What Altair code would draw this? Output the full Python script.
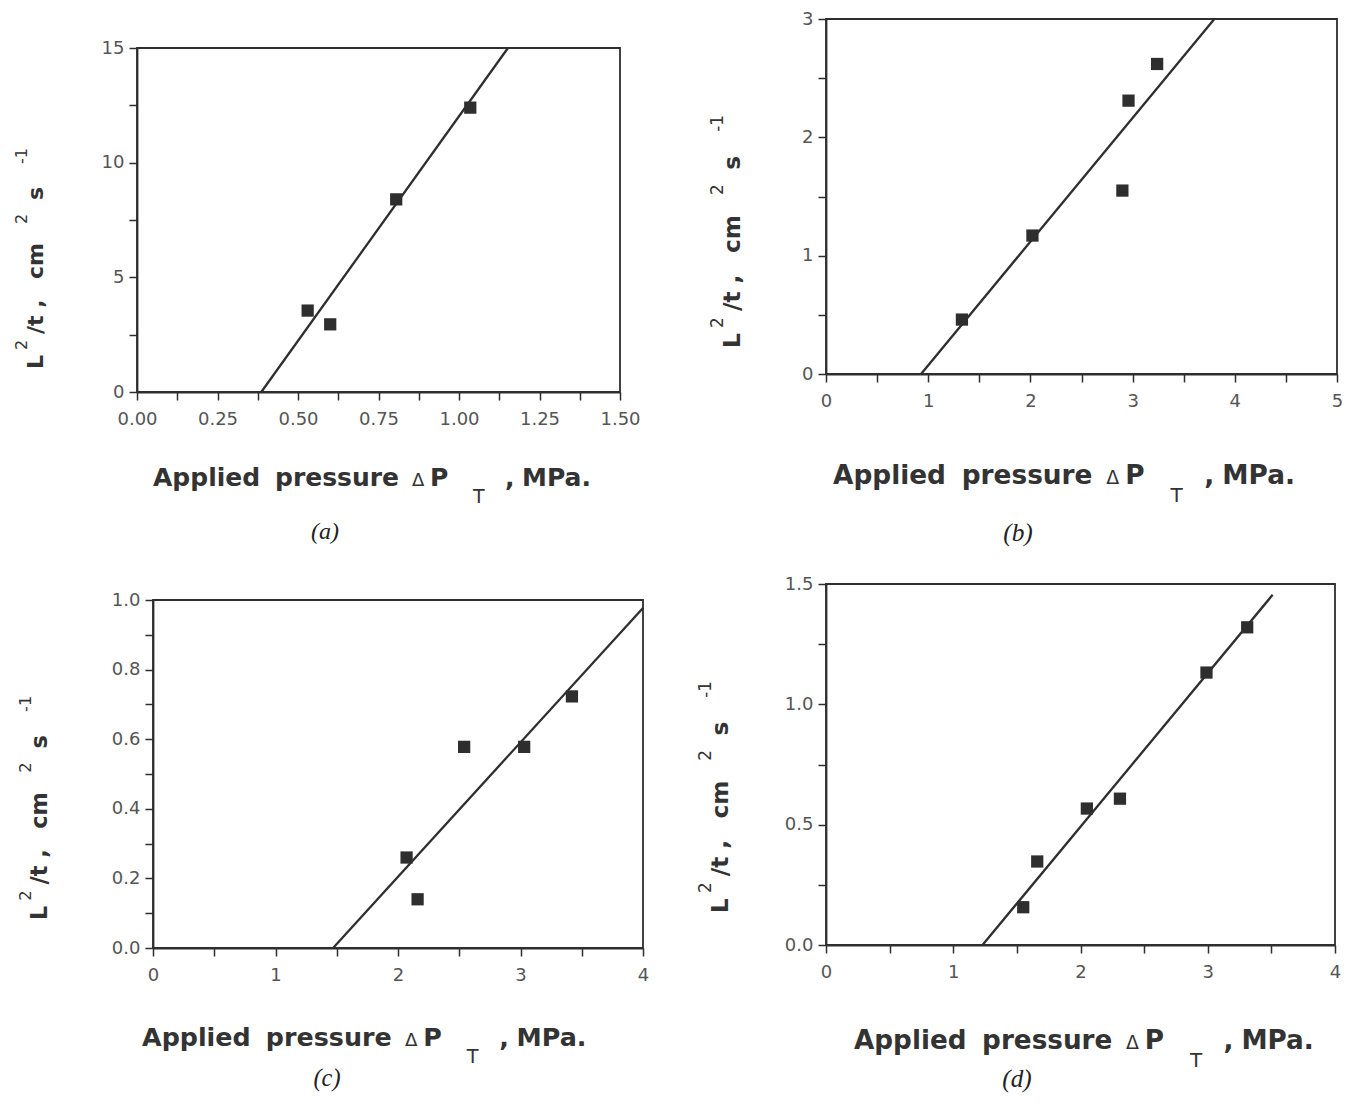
import altair as alt
import pandas as pd

# ---------------- data ----------------
a_x = [0.53, 0.60, 0.805, 1.035]
a_y = [3.55, 2.95, 8.4, 12.4]
a_fit_x = [0.386, 1.152]
a_fit_y = [0.0, 15.0]

b_x = [1.33, 2.02, 2.90, 2.96, 3.24]
b_y = [0.46, 1.17, 1.55, 2.31, 2.62]
b_fit_x = [0.93, 3.80]
b_fit_y = [0.0, 3.0]

c_x = [2.07, 2.16, 2.54, 3.03, 3.42]
c_y = [0.26, 0.14, 0.578, 0.578, 0.723]
c_fit_x = [1.47, 4.0]
c_fit_y = [0.0, 0.977]

d_x = [1.55, 1.66, 2.05, 2.31, 2.99, 3.31]
d_y = [0.157, 0.347, 0.567, 0.608, 1.132, 1.32]
d_fit_x = [1.23, 3.51]
d_fit_y = [0.0, 1.455]

# axis domains, tick positions and labelled ticks
a_xdom = [0, 1.5]
a_ydom = [0, 15]
a_xticks = [0, 0.125, 0.25, 0.375, 0.5, 0.625, 0.75, 0.875, 1.0, 1.125, 1.25, 1.375, 1.5]
a_xlabels = [0, 0.25, 0.5, 0.75, 1.0, 1.25, 1.5]
a_yticks = [0, 2.5, 5, 7.5, 10, 12.5, 15]
a_ylabels = [0, 5, 10, 15]

b_xdom = [0, 5]
b_ydom = [0, 3]
b_xticks = [0, 0.5, 1, 1.5, 2, 2.5, 3, 3.5, 4, 4.5, 5]
b_xlabels = [0, 1, 2, 3, 4, 5]
b_yticks = [0, 0.5, 1, 1.5, 2, 2.5, 3]
b_ylabels = [0, 1, 2, 3]

c_xdom = [0, 4]
c_ydom = [0, 1.0]
c_xticks = [0, 0.5, 1, 1.5, 2, 2.5, 3, 3.5, 4]
c_xlabels = [0, 1, 2, 3, 4]
c_yticks = [0, 0.1, 0.2, 0.3, 0.4, 0.5, 0.6, 0.7, 0.8, 0.9, 1.0]
c_ylabels = [0, 0.2, 0.4, 0.6, 0.8, 1.0]

d_xdom = [0, 4]
d_ydom = [0, 1.5]
d_xticks = [0, 0.5, 1, 1.5, 2, 2.5, 3, 3.5, 4]
d_xlabels = [0, 1, 2, 3, 4]
d_yticks = [0, 0.25, 0.5, 0.75, 1.0, 1.25, 1.5]
d_ylabels = [0, 0.5, 1.0, 1.5]

captions = ["(a)", "(b)", "(c)", "(d)"]
x_title_parts = ["Applied", "pressure", "\u0394", "P", "T", ",", "MPa."]
y_title_parts = ["L", "2", "/t ,", "cm", "2", "s", "-1"]

# ---------------- layout (pixels, view coordinates) ----------------
W, H = 1334, 1086
PAGE = 8  # page margin
INK = "#2e2e2e"
LABEL = "#555555"

axis_style = dict(
    grid=False, title=None, domainColor=INK, domainWidth=1.8,
    tickColor=INK, tickWidth=1.5, tickSize=8,
    labelFont="DejaVu Sans", labelFontSize=18, labelColor=LABEL,
    labelFlush=False, labelOverlap=False,
)


def label_expr(labels, fmt):
    return f"indexof({labels}, datum.value) >= 0 ? format(datum.value, '{fmt}') : ''"


def panel(xs, ys, fx, fy, xdom, ydom, xt, xl, xf, yt, yl, yf, box_px):
    left, right, top, bottom = [v - PAGE for v in box_px]
    xscale = alt.Scale(domain=xdom, range=[left, right], nice=False, zero=False)
    yscale = alt.Scale(domain=ydom, range=[bottom, top], nice=False, zero=False)
    xaxis = alt.Axis(orient="bottom", offset=-(H - bottom), values=xt,
                     labelExpr=label_expr(xl, xf), labelPadding=10, **axis_style)
    yaxis = alt.Axis(orient="left", offset=-left, values=yt,
                     labelExpr=label_expr(yl, yf), labelPadding=5, **axis_style)
    X = alt.X("x:Q", scale=xscale, axis=xaxis)
    Y = alt.Y("y:Q", scale=yscale, axis=yaxis)
    box = pd.DataFrame({"x": [xdom[0]], "x2": [xdom[1]], "y": [ydom[0]], "y2": [ydom[1]]})
    frame = alt.Chart(box).mark_rect(fillOpacity=0, stroke=INK, strokeWidth=1.8).encode(
        x=X, x2="x2:Q", y=Y, y2="y2:Q")
    fit = alt.Chart(pd.DataFrame({"x": fx, "y": fy})).mark_line(
        color=INK, strokeWidth=2.3).encode(x=X, y=Y)
    pts = alt.Chart(pd.DataFrame({"x": xs, "y": ys})).mark_square(
        size=150, color=INK, opacity=1).encode(x=X, y=Y)
    return alt.layer(frame, fit, pts)


# plot boxes on the page: left, right, top, bottom
box_a = [137, 620, 48, 392]
box_b = [826, 1337, 19, 374]
box_c = [153, 643, 600, 948]
box_d = [826, 1335, 584, 945]

pa = panel(a_x, a_y, a_fit_x, a_fit_y, a_xdom, a_ydom, a_xticks, a_xlabels, ".2f",
           a_yticks, a_ylabels, "d", box_a)
pb = panel(b_x, b_y, b_fit_x, b_fit_y, b_xdom, b_ydom, b_xticks, b_xlabels, "d",
           b_yticks, b_ylabels, "d", box_b)
pc = panel(c_x, c_y, c_fit_x, c_fit_y, c_xdom, c_ydom, c_xticks, c_xlabels, "d",
           c_yticks, c_ylabels, ".1f", box_c)
pd_ = panel(d_x, d_y, d_fit_x, d_fit_y, d_xdom, d_ydom, d_xticks, d_xlabels, "d",
            d_yticks, d_ylabels, ".1f", box_d)

# ---------------- axis titles built from pieces (sub/superscripts) ----------------
XT_OFF = [0, 122, 259, 277, 320, 352, 369]
XT_BOLD = [True, True, False, True, False, True, True]
XT_SIZE = [25, 25, 18, 25, 19, 25, 25]
XT_SUB = [0, 0, 0, 0, 17, 0, 0]
YT_OFF = [0, 19, 35, 90, 145, 169, 205]
YT_SUP = [False, True, False, False, True, False, True]

# per panel: scale, x-title start x, x-title baseline, y-title baseline x, y-title start y, caption centre
title_layout = [
    dict(s=1.0, xs=153, yb=486, xb=43, yl=369, cx=325, cy=532),
    dict(s=1.055, xs=833, yb=484, xb=740, yl=348, cx=1018, cy=533),
    dict(s=1.015, xs=142, yb=1046, xb=47, yl=920, cx=327, cy=1079),
    dict(s=1.05, xs=854, yb=1049, xb=728, yl=913, cx=1017, cy=1079),
]

bold_h, reg_h, bold_v, reg_v, caps = [], [], [], [], []
for cap, L in zip(captions, title_layout):
    s = L["s"]
    for part, off, bold, size, sub in zip(x_title_parts, XT_OFF, XT_BOLD, XT_SIZE, XT_SUB):
        row = dict(t=part, px=L["xs"] + off * s - PAGE, py=L["yb"] + sub * s - PAGE,
                   fs=size * s)
        (bold_h if bold else reg_h).append(row)
    for part, off, sup in zip(y_title_parts, YT_OFF, YT_SUP):
        row = dict(t=part, px=L["xb"] - (16 * s if sup else 0) - PAGE, py=L["yl"] - off * s - PAGE,
                   fs=(16 if sup else 22) * s)
        (reg_v if sup else bold_v).append(row)
    caps.append(dict(t=cap, px=L["cx"] - PAGE, py=L["cy"] - PAGE, fs=24 * s))


def text_layer(rows, angle=0, weight="normal", font="DejaVu Sans", style="normal",
               align="left", baseline="alphabetic", color="#333333"):
    return alt.Chart(pd.DataFrame(rows)).mark_text(
        angle=angle, fontWeight=weight, font=font, fontStyle=style,
        align=align, baseline=baseline, color=color,
    ).encode(
        x=alt.X("px:Q", scale=None, axis=None),
        y=alt.Y("py:Q", scale=None, axis=None),
        text="t:N",
        size=alt.Size("fs:Q", scale=None, legend=None),
    )


t1 = text_layer(bold_h, weight="bold")
t2 = text_layer(reg_h)
t3 = text_layer(bold_v, angle=270, weight="bold")
t4 = text_layer(reg_v, angle=270)
t5 = text_layer(caps, font="Liberation Serif", style="italic", align="center",
                baseline="middle", color="#222222")

chart = alt.layer(pa, pb, pc, pd_, t1, t2, t3, t4, t5).resolve_scale(
    x="independent", y="independent"
).resolve_axis(
    x="independent", y="independent"
).properties(
    width=W, height=H, padding=0, autosize=alt.AutoSizeParams(type="none"),
    background="white",
).configure_view(strokeWidth=0)

chart.save("out.html", embed_options={"renderer": "svg", "actions": False})
